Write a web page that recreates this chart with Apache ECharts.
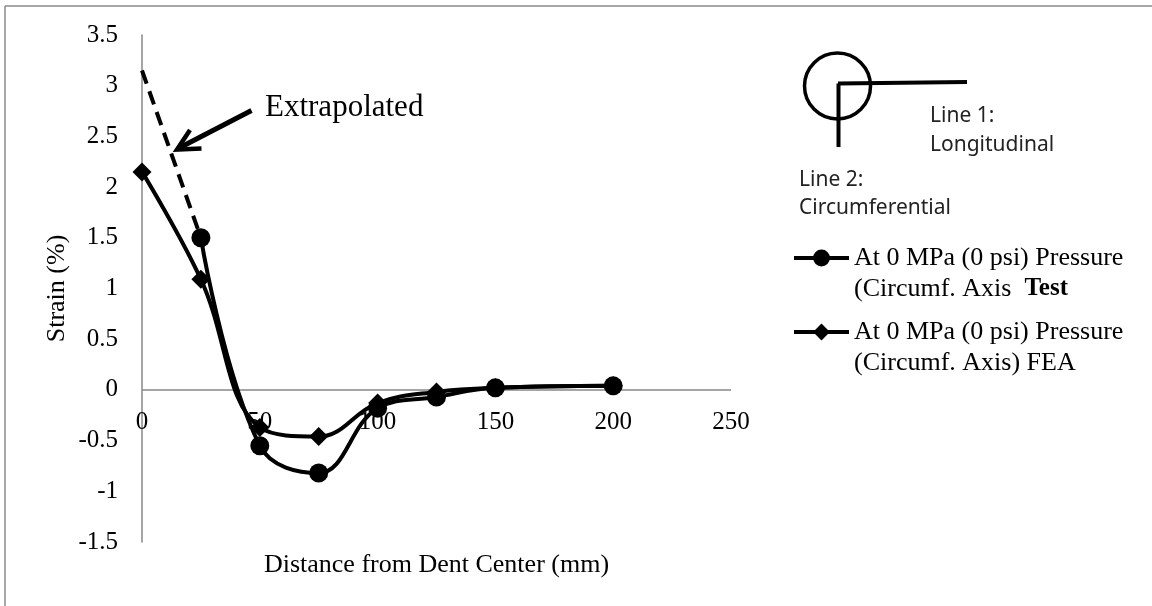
<!DOCTYPE html>
<html>
<head>
<meta charset="utf-8">
<script src="https://cdn.jsdelivr.net/npm/echarts@6/dist/echarts.min.js"></script>
<style>
  html, body { margin: 0; padding: 0; background: #fff; }
  #chart { width: 1152px; height: 606px; }
</style>
</head>
<body>
<div id="chart"></div>
<script>
// Measured circumferential strain along the dent profile
const distTest = [25, 50, 75, 100, 125, 150, 200];
const strainTest = [1.5, -0.55, -0.82, -0.18, -0.07, 0.02, 0.04];

// FEA prediction along the same path
const distFea = [0, 25, 50, 75, 100, 125, 150, 200];
const strainFea = [2.15, 1.09, -0.37, -0.46, -0.13, -0.02, 0.02, 0.04];

// Extrapolation of the test curve back to the dent centre
const distExtrap = [0, 25];
const strainExtrap = [3.15, 1.5];

// Axis ranges and tick spacing
const xRange = { min: 0, max: 250, interval: 50 };
const yRange = { min: -1.5, max: 3.5, interval: 0.5 };

const nameTest = 'At 0 MPa (0 psi) Pressure (Circumf. Axis) Test';
const nameFea = 'At 0 MPa (0 psi) Pressure (Circumf. Axis) FEA';

const pairs = (xs, ys) => xs.map((x, i) => [x, ys[i]]);

const SERIF = '"Liberation Serif", "Times New Roman", serif';
const SANS = '"Noto Sans", "Open Sans", sans-serif';
const AXIS_GREY = '#878787';

const chart = echarts.init(document.getElementById('chart'), null, { renderer: 'canvas' });

const legendText = {
  color: '#000',
  fontFamily: SERIF,
  fontSize: 26,
  lineHeight: 31,
  padding: [31, 0, 0, 0],
  rich: {
    a: { fontFamily: SERIF, fontSize: 26, lineHeight: 31, color: '#000' },
    b: { fontFamily: SERIF, fontSize: 25, lineHeight: 31, fontWeight: 'bold', color: '#000' }
  }
};

function legendLabel(name) {
  if (name === nameTest) {
    return '{a|At 0 MPa (0 psi) Pressure}\n{a|(Circumf. Axis  }{b|Test}';
  }
  return '{a|At 0 MPa (0 psi) Pressure}\n{a|(Circumf. Axis) FEA}';
}

const legendBase = {
  orient: 'vertical',
  left: 792,
  padding: 0,
  itemWidth: 55,
  itemHeight: 21,
  itemGap: 0,
  lineStyle: { width: 4 },
  textStyle: legendText,
  formatter: legendLabel,
  selectedMode: false
};

const option = {
  animation: false,
  backgroundColor: '#fff',
  grid: { left: 142, right: 421, top: 35, bottom: 64, containLabel: false, outerBoundsMode: 'none' },
  xAxis: {
    type: 'value',
    min: xRange.min,
    max: xRange.max,
    interval: xRange.interval,
    name: 'Distance from Dent Center (mm)',
    nameLocation: 'middle',
    nameGap: 10,
    nameMoveOverlap: false,
    nameTextStyle: { fontFamily: SERIF, fontSize: 26, color: '#000' },
    // the visible zero line is drawn by the markLine below; labels sit just under it
    axisLine: { show: false, onZero: false },
    axisTick: { show: false },
    splitLine: { show: false },
    axisLabel: { margin: -132, fontFamily: SERIF, fontSize: 25, color: '#000' }
  },
  yAxis: {
    type: 'value',
    min: yRange.min,
    max: yRange.max,
    interval: yRange.interval,
    name: 'Strain (%)',
    nameLocation: 'middle',
    nameGap: 72,
    nameMoveOverlap: false,
    nameTextStyle: { fontFamily: SERIF, fontSize: 26, color: '#000' },
    axisLine: { show: true, onZero: false, lineStyle: { color: AXIS_GREY, width: 1.5 } },
    axisTick: { show: false },
    splitLine: { show: false },
    axisLabel: { margin: 24, fontFamily: SERIF, fontSize: 25, color: '#000' }
  },
  legend: [
    Object.assign({}, legendBase, { top: 211.5, data: [nameTest] }),
    Object.assign({}, legendBase, { top: 285.5, data: [nameFea] })
  ],
  series: [
    {
      name: 'Extrapolated',
      type: 'line',
      data: pairs(distExtrap, strainExtrap),
      showSymbol: false,
      symbol: 'none',
      lineStyle: { color: '#000', width: 4, type: [14, 8] },
      z: 1,
      markLine: {
        silent: true,
        symbol: 'none',
        label: { show: false },
        lineStyle: { color: AXIS_GREY, width: 1.5, type: 'solid' },
        data: [{ yAxis: 0 }],
        z: 0
      }
    },
    {
      name: nameFea,
      type: 'line',
      data: pairs(distFea, strainFea),
      smooth: 0.4,
      symbol: 'diamond',
      symbolSize: 19,
      itemStyle: { color: '#000' },
      lineStyle: { color: '#000', width: 4 },
      z: 2
    },
    {
      name: nameTest,
      type: 'line',
      data: pairs(distTest, strainTest),
      smooth: 0.4,
      symbol: 'circle',
      symbolSize: 19,
      itemStyle: { color: '#000' },
      lineStyle: { color: '#000', width: 4 },
      z: 3
    }
  ],
  graphic: [
    // outer frame (left and top edges)
    { type: 'line', shape: { x1: 5, y1: 6, x2: 5, y2: 606 }, style: { stroke: '#8a8a8a', lineWidth: 1.5 }, silent: true },
    { type: 'line', shape: { x1: 5, y1: 6, x2: 1152, y2: 6 }, style: { stroke: '#8a8a8a', lineWidth: 1.5 }, silent: true },

    // "Extrapolated" callout with arrow
    {
      type: 'text', x: 265, y: 108, silent: true,
      style: { text: 'Extrapolated', fill: '#000', fontFamily: SERIF, fontSize: 31, verticalAlign: 'middle', align: 'left' }
    },
    { type: 'line', shape: { x1: 251.5, y1: 110.5, x2: 180, y2: 147.5 }, style: { stroke: '#000', lineWidth: 5 }, silent: true },
    {
      type: 'polyline', silent: true,
      shape: { points: [[201.5, 148.5], [177, 149.5], [190, 130]] },
      style: { stroke: '#000', lineWidth: 4.5, fill: null, lineJoin: 'miter' }
    },

    // pipe cross-section sketch with the two strain-gauge lines
    { type: 'circle', shape: { cx: 837.5, cy: 86, r: 33 }, style: { stroke: '#000', lineWidth: 3.5, fill: null }, silent: true },
    { type: 'line', shape: { x1: 838, y1: 83.5, x2: 967, y2: 82 }, style: { stroke: '#000', lineWidth: 4 }, silent: true },
    { type: 'line', shape: { x1: 838.5, y1: 83.5, x2: 838.5, y2: 147 }, style: { stroke: '#000', lineWidth: 4 }, silent: true },
    {
      type: 'text', x: 930, y: 116, silent: true,
      style: { text: 'Line 1:', fill: '#222', fontFamily: SANS, fontSize: 21, verticalAlign: 'middle' }
    },
    {
      type: 'text', x: 930, y: 145, silent: true,
      style: { text: 'Longitudinal', fill: '#222', fontFamily: SANS, fontSize: 21, verticalAlign: 'middle' }
    },
    {
      type: 'text', x: 799, y: 180, silent: true,
      style: { text: 'Line 2:', fill: '#222', fontFamily: SANS, fontSize: 21, verticalAlign: 'middle' }
    },
    {
      type: 'text', x: 799, y: 208, silent: true,
      style: { text: 'Circumferential', fill: '#222', fontFamily: SANS, fontSize: 21, verticalAlign: 'middle' }
    }
  ]
};

chart.setOption(option);
</script>
</body>
</html>
